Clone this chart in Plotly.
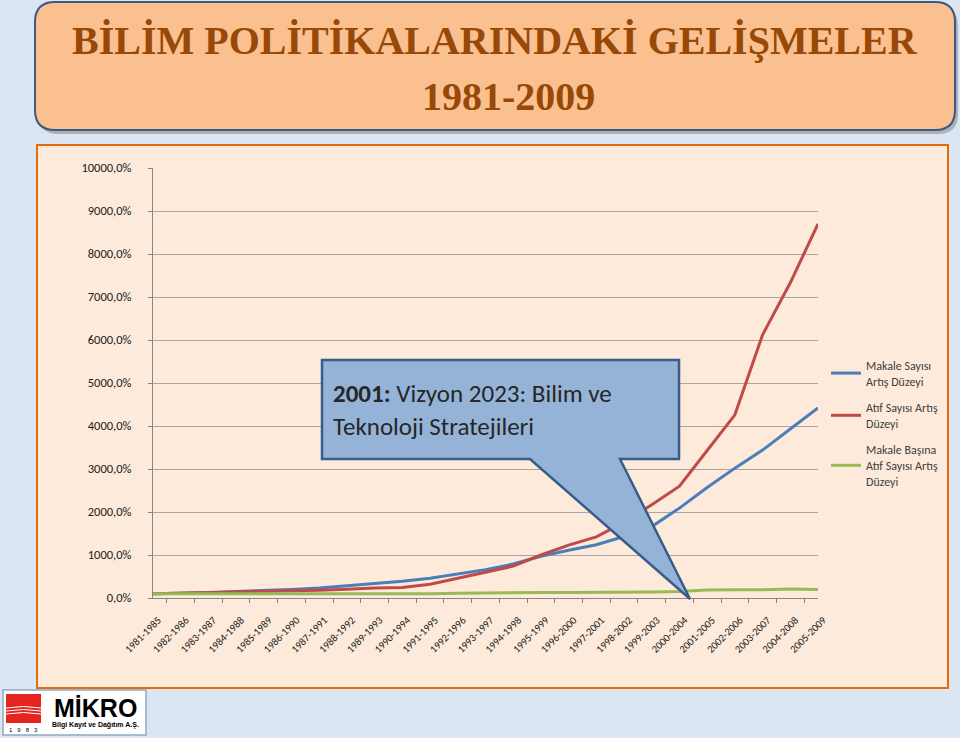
import plotly.graph_objects as go

# periods on the x axis
periods = [
    "1981-1985", "1982-1986", "1983-1987", "1984-1988", "1985-1989",
    "1986-1990", "1987-1991", "1988-1992", "1989-1993", "1990-1994",
    "1991-1995", "1992-1996", "1993-1997", "1994-1998", "1995-1999",
    "1996-2000", "1997-2001", "1998-2002", "1999-2003", "2000-2004",
    "2001-2005", "2002-2006", "2003-2007", "2004-2008", "2005-2009",
]

# growth levels (%)
makale = [100, 110, 130, 150, 170, 200, 230, 280, 335, 390,
          460, 565, 660, 790, 970, 1110, 1240, 1430, 1660, 2090,
          2570, 3020, 3440, 3930, 4420]
atif = [100, 105, 120, 140, 150, 165, 180, 205, 235, 245,
        320, 460, 600, 740, 1000, 1230, 1420, 1760, 2170, 2600,
        3430, 4260, 6120, 7330, 8700]
makale_basina = [100, 100, 100, 100, 95, 95, 95, 100, 100, 90,
                 100, 110, 120, 125, 130, 130, 130, 140, 140, 150,
                 185, 190, 190, 210, 200]

y_ticks = list(range(0, 10001, 1000))
y_labels = [f"{v},0%" for v in y_ticks]

names = ["Makale Sayısı<br>Artış Düzeyi",
         "Atıf Sayısı Artış<br>Düzeyi",
         "Makale Başına<br>Atıf Sayısı Artış<br>Düzeyi"]
colors = ["#4A7EBB", "#BE4B48", "#98B954"]

W, H = 960, 738
L, R, T, B = 153, 818, 168, 598
FONT = "Carlito, Calibri, Lato, sans-serif"


def px(x):
    return (x - L) / (R - L)


def py(y):
    return (B - y) / (B - T)


fig = go.Figure()
for i, (vals, name, col) in enumerate(zip([makale, atif, makale_basina], names, colors)):
    fig.add_trace(go.Scatter(
        x=periods, y=vals, mode="lines", name=name,
        line=dict(color=col, width=3), legendgroup=f"g{i}",
    ))


def rounded_rect(x0, y0, x1, y1, r):
    return (f"M {px(x0 + r)},{py(y0)} L {px(x1 - r)},{py(y0)} "
            f"Q {px(x1)},{py(y0)} {px(x1)},{py(y0 + r)} "
            f"L {px(x1)},{py(y1 - r)} Q {px(x1)},{py(y1)} {px(x1 - r)},{py(y1)} "
            f"L {px(x0 + r)},{py(y1)} Q {px(x0)},{py(y1)} {px(x0)},{py(y1 - r)} "
            f"L {px(x0)},{py(y0 + r)} Q {px(x0)},{py(y0)} {px(x0 + r)},{py(y0)} Z")


shapes = [
    # chart area
    dict(type="rect", xref="paper", yref="paper", layer="below",
         x0=px(37), x1=px(948), y0=py(688), y1=py(145),
         fillcolor="#FDEADA", line=dict(color="#E46C0A", width=2)),
    # title box shadow + box
    dict(type="path", xref="paper", yref="paper", layer="below",
         path=rounded_rect(38, 6, 958, 134, 20),
         fillcolor="rgba(80,80,80,0.35)", line=dict(width=0)),
    dict(type="path", xref="paper", yref="paper", layer="below",
         path=rounded_rect(35, 2, 955, 130, 20),
         fillcolor="#FAC090", line=dict(color="#3B5A80", width=2)),
    # callout
    dict(type="path", xref="paper", yref="paper",
         path=(f"M {px(322)},{py(360)} L {px(679)},{py(360)} L {px(679)},{py(459)} "
               f"L {px(620)},{py(459)} L {px(690)},{py(599)} L {px(530)},{py(459)} "
               f"L {px(322)},{py(459)} Z"),
         fillcolor="#95B3D7", line=dict(color="#385D8A", width=2.5)),
    # logo
    dict(type="rect", xref="paper", yref="paper",
         x0=px(3), x1=px(146), y0=py(735), y1=py(690),
         fillcolor="white", line=dict(color="#8EA9C1", width=1.5)),
    dict(type="rect", xref="paper", yref="paper",
         x0=px(6), x1=px(41), y0=py(723), y1=py(694),
         fillcolor="#E52420", line=dict(width=0)),
]
for yy in (708, 711, 714):
    shapes.append(dict(type="path", xref="paper", yref="paper",
                       path=f"M {px(6)},{py(yy)} Q {px(23.5)},{py(yy - 3)} {px(41)},{py(yy)}",
                       line=dict(color="white", width=1)))

annotations = [
    dict(text="<b>BİLİM POLİTİKALARINDAKİ GELİŞMELER</b>", x=px(495), y=py(40),
         xref="paper", yref="paper", showarrow=False, xanchor="center", yanchor="middle",
         font=dict(family="Liberation Serif, Times New Roman, serif", size=40, color="#984807")),
    dict(text="<b>1981-2009</b>", x=px(508), y=py(96),
         xref="paper", yref="paper", showarrow=False, xanchor="center", yanchor="middle",
         font=dict(family="Liberation Serif, Times New Roman, serif", size=40, color="#984807")),
    dict(text="<b>2001:</b> Vizyon 2023: Bilim ve<br>Teknoloji Stratejileri",
         x=px(331), y=py(410), xref="paper", yref="paper", showarrow=False,
         xanchor="left", yanchor="middle", align="left",
         font=dict(family=FONT, size=25, color="#262626")),
    dict(text="<b>MİKRO</b>", x=px(95), y=py(708), xref="paper", yref="paper",
         showarrow=False, xanchor="center", yanchor="middle",
         font=dict(family="Liberation Sans, Arial, sans-serif", size=25, color="black")),
    dict(text="<b>Bilgi Kayıt ve Dağıtım A.Ş.</b>", x=px(95), y=py(725), xref="paper",
         yref="paper", showarrow=False, xanchor="center", yanchor="middle",
         font=dict(family="Liberation Sans, Arial, sans-serif", size=7, color="black")),
    dict(text="1   9   8   3", x=px(23), y=py(730), xref="paper", yref="paper",
         showarrow=False, xanchor="center", yanchor="middle",
         font=dict(family="Liberation Sans, Arial, sans-serif", size=6, color="black")),
]

fig.update_layout(
    width=W, height=H,
    margin=dict(l=L, r=W - R, t=T, b=H - B, pad=0),
    paper_bgcolor="#DCE6F2",
    plot_bgcolor="#FDEADA",
    font=dict(family=FONT, color="#000000"),
    showlegend=True,
    legend=dict(x=px(826), y=py(351), xanchor="left", yanchor="top",
                bgcolor="rgba(0,0,0,0)", font=dict(size=12, color="#404040"),
                traceorder="grouped", tracegroupgap=8, itemwidth=30),
    shapes=shapes,
    annotations=annotations,
    hovermode=False,
)
fig.update_xaxes(
    type="category", tickangle=-45, tickfont=dict(size=10.5, color="#1a1a1a"),
    showgrid=False, showline=True, linecolor="#868686", linewidth=1,
    ticks="outside", tickson="boundaries", ticklen=4, tickcolor="#868686",
    zeroline=False, ticklabelstandoff=11, ticklabelshift=5,
)
fig.update_yaxes(
    range=[0, 10000], tickvals=y_ticks, ticktext=y_labels,
    tickfont=dict(size=12.5, color="#1a1a1a"), showgrid=True, gridcolor="#A6A6A6",
    gridwidth=1, showline=True, linecolor="#868686", ticks="outside", ticklen=4,
    tickcolor="#868686", zeroline=False, ticklabelstandoff=14,
)

# the page is photographed edge to edge, so drop the default body margin
fig.write_html("out.html", config={"displayModeBar": False},
               post_script="document.body.style.margin='0';")
